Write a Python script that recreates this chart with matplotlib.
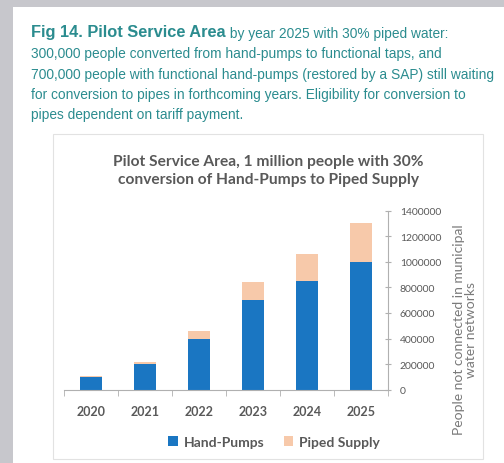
import matplotlib
matplotlib.use('Agg')
import matplotlib.pyplot as plt
from matplotlib.patches import Rectangle

years = ['2020', '2021', '2022', '2023', '2024', '2025']
hand_pumps = [100000, 200000, 400000, 700000, 850000, 1000000]
piped_supply = [5000, 20000, 60000, 140000, 210000, 300000]
y_ticks = [0, 200000, 400000, 600000, 800000, 1000000, 1200000, 1400000]

header_bold = 'Fig 14. Pilot Service Area'
header_rest = ' by year 2025 with 30% piped water:'
header_lines = ['300,000 people converted from hand-pumps to functional taps, and',
                '700,000 people with functional hand-pumps (restored by a SAP) still waiting',
                'for conversion to pipes in forthcoming years. Eligibility for conversion to',
                'pipes dependent on tariff payment.']
chart_title = 'Pilot Service Area, 1 million people with 30%\nconversion of Hand-Pumps to Piped Supply'
y_label = 'People not connected in municipal\nwater networks'

W, H = 504, 464
fig = plt.figure(figsize=(W / 100, H / 100), dpi=100)
fig.patch.set_facecolor('#c7c7cc')

def px(x, y):
    return x / W, 1 - y / H

# white page and the chart's frame, kept behind the axes
fig.patches.append(Rectangle(px(13, 464), (W - 13) / W, 456 / H, transform=fig.transFigure,
                             facecolor='white', edgecolor='none', zorder=-3))
fig.patches.append(Rectangle(px(53, 460), 430 / W, 325 / H, transform=fig.transFigure,
                             facecolor='white', edgecolor='#e2e2e2', lw=0.8, zorder=-2))

teal = '#2b8c8f'
hdr_font = 'Liberation Sans'
t = fig.text(*px(31, 33), header_bold, fontsize=11.8, fontweight='bold', color=teal,
             family=hdr_font, va='center', ha='left')
fig.canvas.draw()
bb = t.get_window_extent()
fig.text(bb.x1 / W, 1 - 34 / H, header_rest, fontsize=9.9, color=teal,
         family=hdr_font, va='center', ha='left')
for i, line in enumerate(header_lines):
    fig.text(*px(31, 54 + i * 20.5), line, fontsize=9.9, color=teal,
             family=hdr_font, va='center', ha='left')

ax = fig.add_axes([64 / W, 1 - 390.7 / H, 324 / W, 179 / H])
ax.patch.set_alpha(0)
xs = range(len(years))
blue = '#1a76c2'
peach = '#f7c9aa'
ax.bar(xs, hand_pumps, width=0.4, color=blue, label='Hand-Pumps', zorder=2)
ax.bar(xs, piped_supply, width=0.4, bottom=hand_pumps, color=peach, label='Piped Supply', zorder=2)

ax.set_xlim(-0.5, 5.5)
ax.set_ylim(0, 1400000)
ax.set_yticks(y_ticks)
ax.set_yticklabels([str(v) for v in y_ticks])
ax.yaxis.tick_right()
ax.set_xticks(list(xs))
ax.set_xticklabels(years)
ax.set_xticks([i + 0.5 for i in range(-1, 6)], minor=True)

axis_grey = '#b0b0b0'
for side in ['top', 'left']:
    ax.spines[side].set_visible(False)
ax.spines['right'].set_color(axis_grey)
ax.spines['bottom'].set_color(axis_grey)
ax.tick_params(axis='y', which='major', direction='inout', length=5, color=axis_grey,
               labelsize=7.5, labelcolor='#595959', pad=6)
ax.tick_params(axis='x', which='major', length=0, labelsize=9, labelcolor='#595959', pad=11)
ax.tick_params(axis='x', which='minor', direction='out', length=4, color=axis_grey)
for lbl in ax.get_xticklabels():
    lbl.set_family('Lato')
    lbl.set_fontweight('bold')
for lbl in ax.get_yticklabels():
    lbl.set_family('Lato')

fig.text(*px(268, 171), chart_title, ha='center', va='center', fontsize=11.2,
         fontweight='bold', color='#595959', family='Lato', linespacing=1.45)
fig.text(*px(465, 330), y_label, ha='center', va='center', rotation=90, fontsize=10,
         color='#7a7a7a', family='Lato', linespacing=1.0)

leg = fig.legend(*ax.get_legend_handles_labels(), loc='center', bbox_to_anchor=px(274, 443),
                 ncol=2, frameon=False, handlelength=0.7, handleheight=0.7, handletextpad=0.4,
                 columnspacing=1.4, prop={'family': 'Lato', 'weight': 'bold', 'size': 10})
for txt in leg.get_texts():
    txt.set_color('#595959')

fig.savefig('out.png', dpi=100, facecolor=fig.get_facecolor())
